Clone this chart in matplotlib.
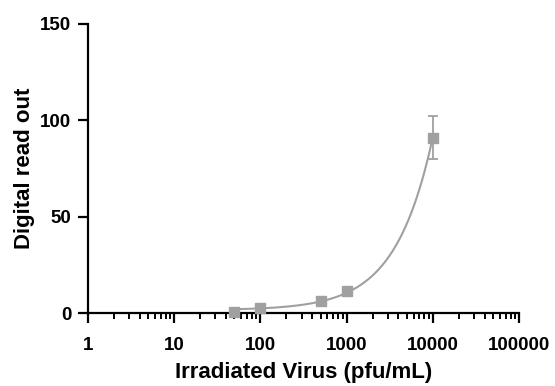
import numpy as np
import matplotlib
matplotlib.use("Agg")
import matplotlib.pyplot as plt
from matplotlib.ticker import LogLocator, FixedLocator, NullFormatter

# Data
virus_pfu = [50, 100, 500, 1000, 10000]
readout = [0.8, 2.5, 6.4, 11.3, 91]
readout_err = [0, 0, 0, 0, 11]
x_ticks = [1, 10, 100, 1000, 10000, 100000]
x_tick_labels = ["1", "10", "100", "1000", "10000", "100000"]
y_ticks = [0, 50, 100, 150]

plt.rcParams['font.family'] = ['Liberation Sans', 'DejaVu Sans']

fig = plt.figure(figsize=(5.55, 3.86), dpi=100)
ax = fig.add_axes([0.1586, 0.189, 0.7764, 0.749])

gray = '#a0a0a0'
# linear fit curve
coef = np.polyfit(virus_pfu, readout, 1)
xf = np.geomspace(min(virus_pfu), max(virus_pfu), 300)
ax.plot(xf, np.polyval(coef, xf), color=gray, lw=1.5, zorder=2)
ax.errorbar(virus_pfu, readout, yerr=readout_err, fmt='s', color=gray,
            ms=7, ecolor=gray, elinewidth=1.3, capsize=3.3, capthick=1.3,
            zorder=3, clip_on=False)

ax.set_xscale('log')
ax.set_xlim(1, 100000)
ax.set_ylim(0, 150)
ax.xaxis.set_major_locator(FixedLocator(x_ticks))
ax.set_xticklabels(x_tick_labels)
ax.xaxis.set_minor_locator(LogLocator(base=10, subs=np.arange(2, 10), numticks=20))
ax.xaxis.set_minor_formatter(NullFormatter())
ax.set_yticks(y_ticks)

for s in ['top', 'right']:
    ax.spines[s].set_visible(False)
for s in ['left', 'bottom']:
    ax.spines[s].set_linewidth(1.6)
    ax.spines[s].set_color('black')

ax.tick_params(axis='both', which='major', length=7, width=1.6, direction='out',
               labelsize=13.5)
ax.tick_params(axis='x', which='major', pad=10)
ax.tick_params(axis='y', which='major', pad=5)
ax.tick_params(axis='x', which='minor', length=4.5, width=1.4, direction='out')
for lab in ax.get_xticklabels() + ax.get_yticklabels():
    lab.set_fontweight('bold')

ax.set_xlabel('Irradiated Virus (pfu/mL)', fontsize=16, fontweight='bold', labelpad=6)
ax.set_ylabel('Digital read out', fontsize=16, fontweight='bold', labelpad=4)

fig.savefig('out.png', dpi=100)
